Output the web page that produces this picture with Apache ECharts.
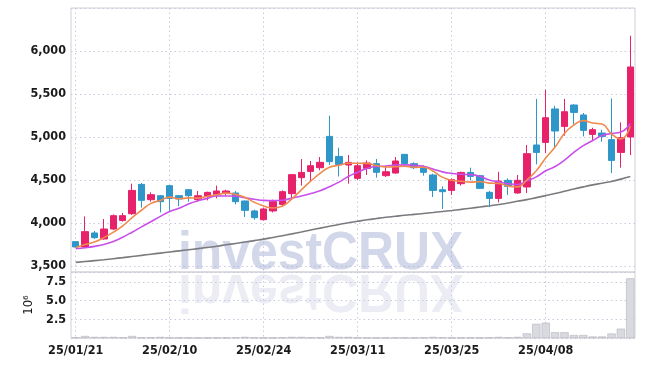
<!DOCTYPE html>
<html>
<head>
<meta charset="utf-8">
<script src="https://cdn.jsdelivr.net/npm/echarts@6/dist/echarts.min.js"></script>
<style>html,body{margin:0;padding:0;background:#fff;}#c{width:645px;height:366px;}</style>
</head>
<body>
<div id="c"></div>
<script>
const dates = ['25/01/21','25/01/22','25/01/23','25/01/24','25/01/31','25/02/03','25/02/04','25/02/05','25/02/06','25/02/07',
'25/02/10','25/02/11','25/02/12','25/02/13','25/02/14','25/02/17','25/02/18','25/02/19','25/02/20','25/02/21',
'25/02/24','25/02/25','25/02/26','25/02/27','25/02/28','25/03/04','25/03/05','25/03/06','25/03/07','25/03/10',
'25/03/11','25/03/12','25/03/13','25/03/14','25/03/17','25/03/18','25/03/19','25/03/20','25/03/21','25/03/24',
'25/03/25','25/03/26','25/03/27','25/03/28','25/03/31','25/04/01','25/04/02','25/04/03','25/04/04','25/04/07',
'25/04/08','25/04/09','25/04/10','25/04/11','25/04/14','25/04/15','25/04/16','25/04/17','25/04/18','25/04/21'];

const openV = [3783,3721,3884,3814,3930,4030,4108,4449,4271,4317,4434,4317,4387,4271,4310,4333,4349,4349,4256,4140,
4038,4140,4216,4341,4527,4600,4643,5007,4774,4674,4519,4635,4690,4550,4581,4798,4690,4651,4558,4387,
4379,4457,4588,4550,4356,4286,4496,4349,4419,4907,4937,5326,5123,5372,5256,5030,5046,4969,4821,5000];
const closeV = [3721,3899,3829,3930,4085,4085,4379,4263,4329,4248,4286,4279,4317,4317,4356,4372,4372,4248,4147,4062,
4163,4248,4364,4562,4588,4666,4705,4713,4681,4705,4666,4698,4589,4596,4721,4690,4643,4589,4379,4364,
4503,4588,4542,4403,4286,4488,4426,4496,4806,4821,5224,5070,5294,5286,5077,5085,5007,4728,4992,5814];
const lowV = [3715,3710,3814,3806,3920,4015,4093,4178,4248,4123,4140,4195,4248,4250,4263,4286,4317,4216,4070,4038,
4030,4123,4193,4290,4434,4488,4612,4674,4540,4457,4500,4558,4527,4535,4573,4660,4628,4550,4302,4163,
4326,4434,4496,4395,4186,4240,4326,4340,4349,4682,4814,4876,5015,5147,5007,4960,4945,4581,4643,4790];
const highV = [3790,4077,3907,4046,4100,4116,4457,4465,4356,4326,4442,4325,4390,4372,4364,4434,4387,4372,4260,4155,
4178,4271,4379,4570,4744,4721,4767,5248,4876,4790,4700,4728,4744,4658,4767,4800,4705,4670,4573,4426,
4519,4596,4643,4560,4372,4596,4519,4558,4907,5442,5550,5364,5442,5380,5279,5108,5085,5449,5170,6178];

const ma5 = [3715,3750,3780,3830,3893,3966,4062,4148,4228,4261,4301,4281,4292,4289,4311,4328,4347,4333,4299,4240,
4198,4174,4197,4280,4385,4486,4577,4647,4671,4694,4694,4693,4668,4651,4654,4659,4648,4648,4604,4533,
4496,4485,4475,4480,4464,4461,4429,4420,4500,4607,4755,4883,5043,5139,5190,5162,5150,5037,4978,5125];
const ma10 = [3700,3712,3728,3750,3785,3835,3893,3955,4015,4077,4133,4171,4220,4259,4286,4315,4314,4312,4294,4276,
4263,4260,4265,4289,4313,4342,4375,4422,4475,4540,4590,4635,4657,4661,4674,4676,4670,4658,4628,4594,
4577,4566,4562,4542,4499,4479,4457,4448,4490,4536,4608,4656,4731,4820,4899,4959,5017,5040,5058,5157];
const maLong = [3542,3552,3562,3573,3585,3597,3610,3623,3637,3650,3663,3676,3689,3702,3716,3730,3746,3762,3778,3795,
3812,3832,3852,3873,3895,3918,3940,3962,3983,4002,4020,4037,4052,4066,4078,4090,4100,4110,4121,4133,
4145,4158,4172,4186,4200,4215,4232,4252,4272,4295,4318,4342,4368,4395,4420,4443,4463,4483,4510,4540];

const volume = [0.08,0.27,0.14,0.14,0.14,0.06,0.27,0.06,0.06,0.14,0.05,0.05,0.05,0.05,0.05,0.05,0.05,0.06,0.14,0.06,
0.05,0.05,0.06,0.14,0.14,0.06,0.07,0.27,0.14,0.14,0.05,0.05,0.05,0.05,0.05,0.05,0.05,0.06,0.14,0.06,
0.05,0.05,0.05,0.05,0.06,0.14,0.06,0.14,0.62,1.9,2.05,0.77,0.77,0.4,0.4,0.2,0.2,0.6,1.25,8.0];

const candles = openV.map((o, i) => [o, closeV[i], lowV[i], highV[i]]);

const FONT = '"DejaVu Sans Condensed","Liberation Sans",sans-serif';
const gridLine = {show: true, lineStyle: {color: '#c9cbdc', type: [1.5, 3], width: 1}};
const vSplit = {show: true, interval: 9, alignWithLabel: true, lineStyle: {color: '#c9cbdc', type: [1.5, 3], width: 1}};
const labelStyle = {color: '#1a1a1a', fontFamily: FONT, fontSize: 12.5};

const chart = echarts.init(document.getElementById('c'), null, {renderer: 'canvas'});
chart.setOption({
  animation: false,
  backgroundColor: '#fff',
  grid: [
    {left: 71, right: 10, top: 8, height: 264, show: true, borderColor: '#d0d0d8', borderWidth: 1},
    {left: 71, right: 10, top: 272, height: 66, show: true, borderColor: '#d0d0d8', borderWidth: 1}
  ],
  graphic: [
    {type: 'text', x: 178, y: 281, scaleX: 0.94, z: 1, silent: true,
     style: {text: 'investCRUX', font: 'bold 53px "Liberation Sans", sans-serif', fill: 'rgba(165,176,214,0.5)', verticalAlign: 'bottom'}},
    {type: 'text', x: 178, y: 263, scaleX: 0.94, scaleY: -1, z: 1, silent: true,
     style: {text: 'investCRUX', font: 'bold 53px "Liberation Sans", sans-serif', fill: 'rgba(195,199,220,0.32)', verticalAlign: 'bottom'}}
  ],
  xAxis: [
    {type: 'category', gridIndex: 0, data: dates, boundaryGap: true,
     axisLine: {show: false}, axisTick: {show: false}, axisLabel: {show: false},
     splitLine: vSplit},
    {type: 'category', gridIndex: 1, data: dates, boundaryGap: true,
     axisLine: {show: false}, axisTick: {show: false},
     axisLabel: Object.assign({show: true, interval: 9, margin: 6, fontWeight: 'bold'}, labelStyle),
     splitLine: vSplit}
  ],
  yAxis: [
    {type: 'value', gridIndex: 0, min: 3430, max: 6500, splitNumber: 6, scale: true,
     axisLine: {show: false}, axisTick: {show: false},
     axisLabel: Object.assign({showMinLabel: false, showMaxLabel: false, margin: 5, fontWeight: 'bold',
       formatter: v => Math.round(v).toLocaleString('en-US')}, labelStyle),
     splitLine: gridLine},
    {type: 'value', gridIndex: 1, min: 0, max: 8.85, interval: 2.5,
     name: '10\u2076', nameLocation: 'middle', nameRotate: 90, nameGap: 36,
     nameTextStyle: {color: '#1a1a1a', fontFamily: FONT, fontSize: 13},
     axisLine: {show: false}, axisTick: {show: false},
     axisLabel: Object.assign({showMinLabel: false, showMaxLabel: false, margin: 5, fontWeight: 'bold',
       formatter: v => v.toFixed(1)}, labelStyle),
     splitLine: gridLine}
  ],
  series: [
    {type: 'line', name: 'MA60', xAxisIndex: 0, yAxisIndex: 0, data: maLong, showSymbol: false, smooth: true, z: 3,
     lineStyle: {color: '#7b7b7f', width: 1.6}},
    {type: 'candlestick', name: 'price', xAxisIndex: 0, yAxisIndex: 0, data: candles, barWidth: '72%', z: 4,
     itemStyle: {color: '#e8216b', color0: '#2e96c9', borderColor: '#e8216b', borderColor0: '#2e96c9', borderWidth: 1}},
    {type: 'line', name: 'MA10', xAxisIndex: 0, yAxisIndex: 0, data: ma10, showSymbol: false, smooth: true, z: 5,
     lineStyle: {color: '#c94fea', width: 1.6}},
    {type: 'line', name: 'MA5', xAxisIndex: 0, yAxisIndex: 0, data: ma5, showSymbol: false, smooth: true, z: 6,
     lineStyle: {color: '#f08a4e', width: 1.6}},
    {type: 'bar', name: 'volume', xAxisIndex: 1, yAxisIndex: 1, data: volume, barWidth: '88%',
     itemStyle: {color: '#d9d9e0', borderColor: '#b4b4be', borderWidth: 0.6}}
  ]
});
</script>
</body>
</html>
